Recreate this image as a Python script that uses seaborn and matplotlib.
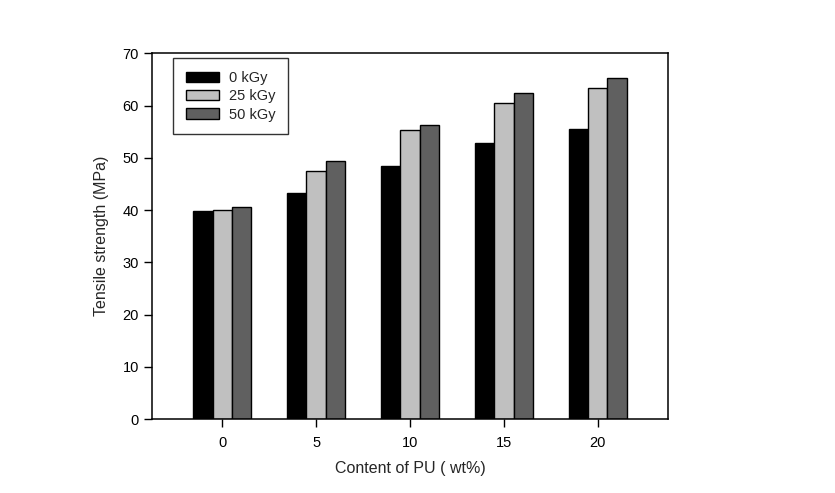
import pandas as pd
import matplotlib
matplotlib.use("Agg")
import matplotlib.pyplot as plt
import seaborn as sns

# data
content = ["0", "5", "10", "15", "20"]
dose_labels = ["0 kGy", "25 kGy", "50 kGy"]
strength_0kgy = [39.8, 43.2, 48.4, 52.8, 55.5]
strength_25kgy = [40.0, 47.4, 55.4, 60.4, 63.4]
strength_50kgy = [40.5, 49.3, 56.2, 62.3, 65.3]

rows = []
for lab, vals in zip(dose_labels, [strength_0kgy, strength_25kgy, strength_50kgy]):
    for c, v in zip(content, vals):
        rows.append({"Content": c, "Dose": lab, "Strength": v})
df = pd.DataFrame(rows)

sns.set_style("ticks")
plt.rcParams['font.family'] = ['Liberation Sans', 'DejaVu Sans']

fig = plt.figure(figsize=(8.35, 4.93), dpi=100)
ax = fig.add_axes([0.182, 0.150, 0.618, 0.742])

sns.barplot(data=df, x="Content", y="Strength", hue="Dose",
            order=content, hue_order=dose_labels,
            palette=["#000000", "#c0c0c0", "#606060"],
            width=0.62, edgecolor="black", linewidth=1.0,
            saturation=1, ax=ax)

ax.set_xlim(-0.75, 4.75)
ax.set_ylim(0, 70)
ax.set_yticks(range(0, 71, 10))
ax.set_xlabel("Content of PU ( wt%)", fontsize=11.5, labelpad=8)
ax.set_ylabel("Tensile strength (MPa)", fontsize=11.5, labelpad=10)
ax.tick_params(axis="both", labelsize=10.5, direction="out", length=6, width=1, colors="black")
ax.tick_params(axis="x", pad=6)
for s in ax.spines.values():
    s.set_visible(True)
    s.set_linewidth(1.1)
    s.set_color("black")

leg = ax.legend(loc="upper left", bbox_to_anchor=(0.041, 0.986), frameon=True,
                fancybox=False, edgecolor="black", fontsize=10.5,
                borderaxespad=0, handlelength=2.3, handleheight=0.7,
                handletextpad=0.7, labelspacing=0.3, borderpad=0.85)
leg.get_frame().set_linewidth(1.0)

fig.savefig("out.png", dpi=100)
